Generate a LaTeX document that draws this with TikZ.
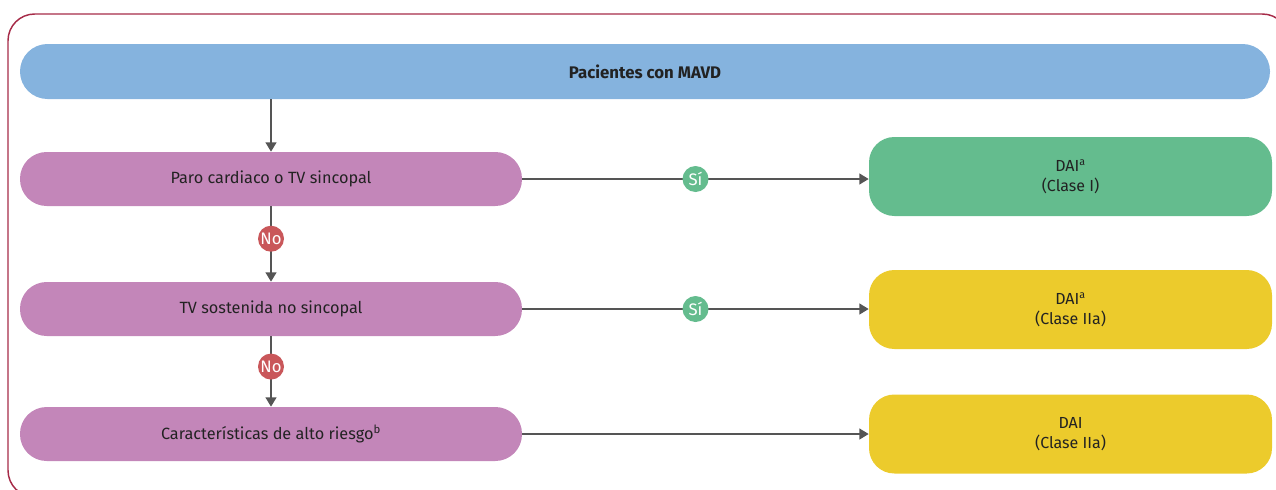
\documentclass[tikz,border=0pt]{standalone}
\usepackage{fontspec}
\setmainfont{Fira Sans}
\usetikzlibrary{arrows.meta}
\definecolor{frameRed}{HTML}{A62B48}
\definecolor{mavdBlue}{HTML}{85B3DE}
\definecolor{pasoLila}{HTML}{C386B9}
\definecolor{daiVerde}{HTML}{64BC8E}
\definecolor{daiAmarillo}{HTML}{ECCB2C}
\definecolor{noRojo}{HTML}{C9575A}
\definecolor{flecha}{HTML}{555555}
\definecolor{texto}{HTML}{222222}
\tikzset{
  pill/.style={fill=#1, rounded corners=20pt, text=texto, font=\fontsize{12.2}{14}\selectfont, align=center},
  paso/.style={pill=pasoLila, minimum width=376.5pt, minimum height=40.5pt, inner sep=0pt},
  daibox/.style={fill=#1, rounded corners=19pt, text=texto, font=\fontsize{12}{15}\selectfont, align=center,
    minimum width=302.25pt, minimum height=59.25pt, inner sep=0pt},
  badge/.style={circle, fill=#1, text=white, inner sep=0pt, minimum size=19.5pt, font=\fontsize{12.5}{14}\selectfont},
  flujo/.style={draw=flecha, line width=1.5pt, -{Triangle[length=7pt,width=8pt]}}
}
\begin{document}
\begin{tikzpicture}[x=0.75pt,y=-0.75pt]
  \useasboundingbox (0,0) rectangle (1276,489);
  \clip (0,0) rectangle (1276,489);
  % marco
  \draw[frameRed, line width=1.1pt, rounded corners=20pt] (8,14) rectangle (1289,497);

  \node[pill=mavdBlue, minimum width=937.5pt, minimum height=41.25pt, inner sep=0pt,
        rounded corners=20.6pt, font=\fontsize{12.6}{14}\selectfont\bfseries] (mavd) at (645,71.5) {Pacientes con MAVD};

  \node[paso] (paro) at (271,179) {Paro cardiaco o TV sincopal};
  \node[paso] (tvs) at (271,309) {TV sostenida no sincopal};
  \node[paso] (riesgo) at (271,434) {Características de alto riesgo\textsuperscript{b}};

  \node[daibox=daiVerde] (dai1) at (1070.5,176.5) {DAI\textsuperscript{a}\\(Clase I)};
  \node[daibox=daiAmarillo] (dai2) at (1070.5,309.5) {DAI\textsuperscript{a}\\(Clase IIa)};
  \node[daibox=daiAmarillo] (dai3) at (1070.5,434) {DAI\\(Clase IIa)};

  \draw[flujo] (paro.north |- mavd.south) -- (paro.north);
  \draw[flujo] (paro) -- node[pos=0.43, badge=noRojo] {No} (tvs);
  \draw[flujo] (tvs) -- node[pos=0.43, badge=noRojo] {No} (riesgo);

  \draw[flujo] (paro.east) -- node[badge=daiVerde] {Sí} (paro.east -| dai1.west);
  \draw[flujo] (tvs.east) -- node[badge=daiVerde] {Sí} (tvs.east -| dai2.west);
  \draw[flujo] (riesgo.east) -- (riesgo.east -| dai3.west);
\end{tikzpicture}
\end{document}
